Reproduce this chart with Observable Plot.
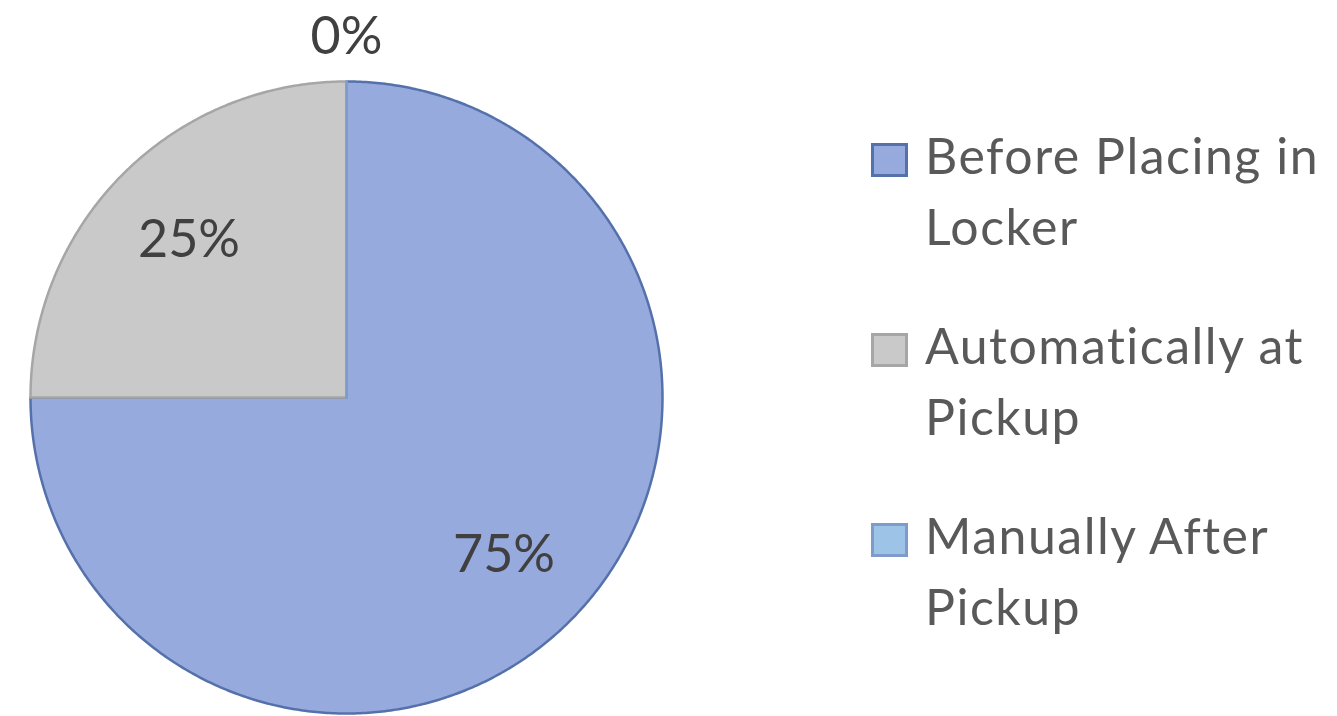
<!DOCTYPE html>
<html>
<head>
<meta charset="utf-8">
<script src="https://cdn.jsdelivr.net/npm/d3@7"></script>
<script src="https://cdn.jsdelivr.net/npm/@observablehq/plot@0.6"></script>
<style>
  body { margin: 0; background: #ffffff; }
  #wrap { position: relative; width: 1337px; height: 716px; overflow: hidden; font-family: Lato, "Open Sans", sans-serif; }
  #wrap svg { position: absolute; left: 0; top: 0; }
  .item { position: absolute; left: 871px; }
  .sw { position: absolute; left: 0; width: 31px; height: 28px; border: 3px solid; }
  .lab { position: absolute; left: 54px; font-size: 50px; line-height: 71px; color: #595959; white-space: nowrap; letter-spacing: 1.5px; font-variant-ligatures: none; }
</style>
</head>
<body>
<div id="wrap"></div>
<script>
// ---- data ----
const categories = ["Before Placing in Locker", "Automatically at Pickup", "Manually After Pickup"];
const legendLines = [["Before Placing in", "Locker"], ["Automatically at", "Pickup"], ["Manually After", "Pickup"]];
const values = [75, 25, 0];
const valueLabels = ["75%", "25%", "0%"];
const fills = ["#96aadd", "#c9c9c9", "#9dc3e6"];
const strokes = ["#5571ab", "#a6a6a6", "#7f9bcb"];

// ---- geometry from data ----
const arcs = d3.pie().sort(null).value(d => d)(values);
function slicePoints(a) {
  const pts = [{x: 0, y: 0}];
  const span = a.endAngle - a.startAngle;
  const n = Math.max(1, Math.ceil(span / (Math.PI / 360)));
  for (let i = 0; i <= n; i++) {
    const t = a.startAngle + span * i / n;
    pts.push({x: Math.sin(t), y: Math.cos(t)});
  }
  pts.push({x: 0, y: 0});
  return pts;
}
const labelData = arcs.map((a, i) => {
  const mid = (a.startAngle + a.endAngle) / 2;
  const r = values[i] > 0 ? 0.705 : 1.14;
  return {x: r * Math.sin(mid), y: r * Math.cos(mid), text: valueLabels[i]};
});

const sliceMarks = arcs.map((a, i) => Plot.line(slicePoints(a), {
  x: "x", y: "y",
  fill: fills[i], stroke: strokes[i], strokeWidth: 2.5,
  strokeLinejoin: "round"
}));

const chart = Plot.plot({
  width: 1337,
  height: 716,
  marginLeft: 30,
  marginRight: 675,
  marginTop: 81,
  marginBottom: 3,
  x: {domain: [-1, 1], axis: null},
  y: {domain: [-1, 1], axis: null},
  style: {background: "transparent", fontFamily: "Lato, 'Open Sans', sans-serif"},
  marks: [
    ...sliceMarks,
    Plot.text(labelData, {
      x: "x", y: "y", text: "text",
      fontSize: 52, fill: "#404040", textAnchor: "middle", lineAnchor: "middle"
    })
  ]
});

const wrap = document.getElementById("wrap");
wrap.appendChild(chart);

// legend (right side)
const itemTops = [124, 314, 504];
legendLines.forEach((lines, i) => {
  const item = document.createElement("div");
  item.className = "item";
  item.style.top = itemTops[i] + "px";
  const sw = document.createElement("div");
  sw.className = "sw";
  sw.style.top = "19px";
  sw.style.background = fills[i];
  sw.style.borderColor = strokes[i];
  item.appendChild(sw);
  lines.forEach((ln, j) => {
    const t = document.createElement("div");
    t.className = "lab";
    t.style.top = (j * 71 - 4) + "px";
    t.textContent = ln;
    item.appendChild(t);
  });
  item.setAttribute("title", categories[i]);
  wrap.appendChild(item);
});
</script>
</body>
</html>
